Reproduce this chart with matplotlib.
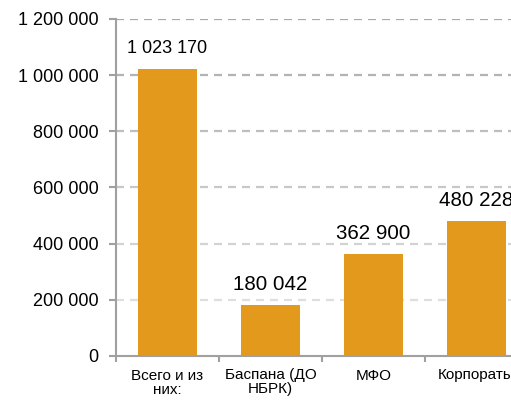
import numpy as np
import matplotlib
matplotlib.use('Agg')
import matplotlib.pyplot as plt

plt.rcParams['font.family'] = ['Liberation Sans', 'DejaVu Sans']
plt.rcParams['lines.scale_dashes'] = False

categories = ['Всего и из\nних:', 'Баспана (ДО\nНБРК)', 'МФО', 'Корпораты']
values = [1023170, 180042, 362900, 480228]
label_sizes = [13, 14.8, 14.8, 14.8]
yticks = [0, 200000, 400000, 600000, 800000, 1000000, 1200000]

bar_color = '#E2991C'
axis_color = '#a0a0a0'


def fmt(v):
    return '{:,}'.format(int(v)).replace(',', ' ')


fig = plt.figure(figsize=(5.11, 4.05), dpi=100)
# axes run past the right edge of the figure, so the last column is cut
ax = fig.add_axes([116 / 511, 1 - 356 / 405, 412 / 511, 337 / 405])

x = np.arange(len(categories))
ax.bar(x, values, width=0.57, color=bar_color, zorder=3)

ax.set_xlim(-0.5, len(categories) - 0.5)
ax.set_ylim(0, 1200000)

# dashed grid, fading from darker at the top to lighter at the bottom
grays = np.linspace(0.87, 0.66, len(yticks) - 1)
for t, g in zip(yticks[1:], grays):
    line = ax.axhline(t, color=(g, g, g), lw=1.6, zorder=1)
    line.set_dashes([8 * 0.72, 6 * 0.72])

ax.set_yticks(yticks)
ax.set_yticklabels([fmt(t) for t in yticks], fontsize=13)
ax.tick_params(axis='y', length=5, width=1.5, color=axis_color, pad=7.5)

ax.set_xticks(x)
ax.set_xticklabels(categories, fontsize=11, linespacing=1.0)
ax.set_xticks(np.arange(len(categories) + 1) - 0.5, minor=True)
ax.tick_params(axis='x', which='major', length=0, pad=9)
ax.tick_params(axis='x', which='minor', length=4, width=1.5, color=axis_color)

for side in ['top', 'right']:
    ax.spines[side].set_visible(False)
for side in ['left', 'bottom']:
    ax.spines[side].set_color(axis_color)
    ax.spines[side].set_linewidth(1.5)
    ax.spines[side].set_zorder(4)

for xi, v, fs in zip(x, values, label_sizes):
    ax.annotate(fmt(v), (xi, v), xytext=(0, 11), textcoords='offset points',
                ha='center', va='baseline', fontsize=fs, annotation_clip=False)

fig.savefig('out.png', dpi=100)
